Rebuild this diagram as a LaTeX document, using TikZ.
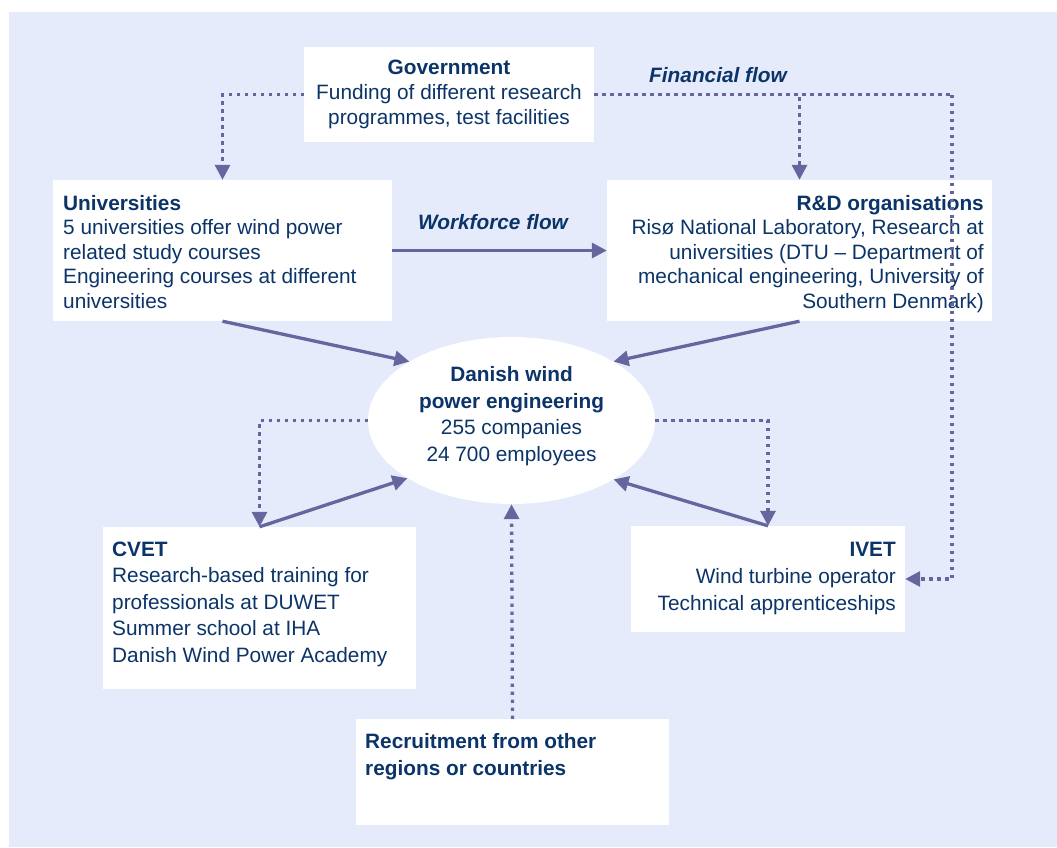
\documentclass[tikz,border=0pt]{standalone}
\usepackage{fontspec}
\setmainfont{Liberation Sans}
\usetikzlibrary{arrows.meta,shapes.geometric}
\definecolor{bgc}{HTML}{E6EBFB}
\definecolor{txc}{HTML}{0B3468}
\definecolor{arc}{HTML}{66669E}
\tikzset{
  box/.style={fill=white, draw=none, inner sep=0pt, rectangle},
  txt/.style={text=txc, inner sep=0pt, font=\fontsize{20.8pt}{24.5pt}\selectfont},
  txtw/.style={text=txc, inner sep=0pt, font=\fontsize{20.8pt}{26.5pt}\selectfont},
  lbl/.style={text=txc, inner sep=0pt, font=\fontsize{20.8pt}{25pt}\selectfont\bfseries\itshape},
  solidarr/.style={draw=arc, line width=3.3pt, -{Triangle[length=15pt,width=15pt]}},
  dotarr/.style={draw=arc, line width=3.3pt, dash pattern=on 3.3pt off 4.7pt, -{Triangle[length=15pt,width=15pt]}},
  dotline/.style={draw=arc, line width=3.3pt, dash pattern=on 3.3pt off 4.7pt},
}
\begin{document}
\begin{tikzpicture}[x=1pt,y=-1pt]
\useasboundingbox (0,0) rectangle (1057,847);
\fill[bgc] (9,12) rectangle (1057,847);

% boxes
\node[box, minimum width=290pt, minimum height=95pt] (gov) at (449,94.5) {};
\node[box, minimum width=339pt, minimum height=141pt] (univ) at (222.5,250.5) {};
\node[box, minimum width=385pt, minimum height=141pt] (rd) at (799.5,250.5) {};
\node[box, minimum width=313pt, minimum height=162pt] (cvet) at (259.5,608) {};
\node[box, minimum width=274pt, minimum height=106pt] (ivet) at (768,579) {};
\node[box, minimum width=313pt, minimum height=106pt] (rec) at (512.5,772) {};
\node[ellipse, fill=white, draw=none, inner sep=0pt, minimum width=287pt, minimum height=167pt] (ell) at (511.5,420.5) {};

% texts (base anchor = baseline of the last line)
\node[txt, font=\fontsize{20.8pt}{25pt}\selectfont, align=center, anchor=base] (govt) at (449,124)
  {\textbf{Government}\\Funding of different research\\programmes, test facilities};
\node[lbl, anchor=base] (fin) at (718,82) {Financial flow};
\node[lbl, anchor=base] (work) at (493,229) {Workforce flow};
\node[txt, align=left, anchor=base west] (univt) at (63,308)
  {\textbf{Universities}\\5 universities offer wind power\\related study courses\\Engineering courses at different\\universities};
\node[txt, align=right, anchor=base east] (rdt) at (984,308)
  {\textbf{R\&D organisations}\\Risø National Laboratory, Research at\\universities (DTU – Department of\\mechanical engineering, University of\\Southern Denmark)};
\node[txtw, align=center, anchor=base] (ellt) at (511.5,461)
  {\textbf{Danish wind}\\\textbf{power engineering}\\255 companies\\24 700 employees};
\node[txtw, align=left, anchor=base west] (cvett) at (112,662)
  {\textbf{CVET}\\Research-based training for\\professionals at DUWET\\Summer school at IHA\\Danish Wind Power Academy};
\node[txtw, font=\fontsize{20.8pt}{27pt}\selectfont, align=right, anchor=base east] (ivett) at (896,610)
  {\textbf{IVET}\\Wind turbine operator\\Technical apprenticeships};
\node[txtw, align=left, anchor=base west] (rect) at (365,775)
  {\textbf{Recruitment from other}\\\textbf{regions or countries}};

% connectors
\coordinate (fr) at (952,94.5);
\draw[dotarr] (gov.west) -| (univ.north);
\draw[dotarr] (gov.east) -| (rd.north);
\draw[dotline] (gov.east) -- (fr);
\draw[dotarr] (fr) |- (ivet.east);
\draw[solidarr] (univ.east) -- (rd.west);
\draw[solidarr] (univ.south) -- (ell.150.5);
\draw[solidarr] (rd.south) -- (ell.30.5);
\draw[dotarr] (ell.west) -| (cvet.north);
\draw[solidarr] (cvet.north) -- (ell.209.5);
\draw[dotarr] (ell.east) -| (ivet.north);
\draw[solidarr] (ivet.north) -- (ell.330.5);
\draw[dotarr] (rec.north) -- (ell.south);
\end{tikzpicture}
\end{document}
